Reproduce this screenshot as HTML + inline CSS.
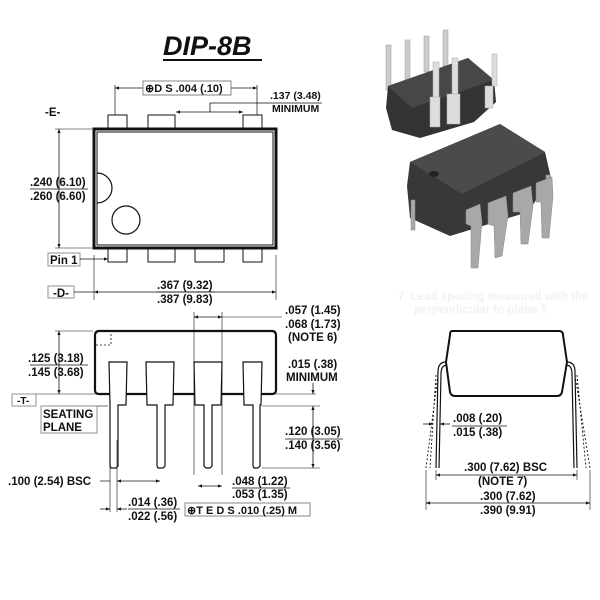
<!DOCTYPE html>
<html><head><style>
body{margin:0;background:#fff}
svg{display:block}
text{font-family:"Liberation Sans",sans-serif;font-weight:bold;font-size:11.5px;fill:#111}
</style></head><body>
<svg width="600" height="600" viewBox="0 0 600 600" xmlns="http://www.w3.org/2000/svg">
<defs><marker id="a" viewBox="0 0 10 10" refX="10" refY="5" markerWidth="7" markerHeight="5" orient="auto-start-reverse"><path d="M0,1L10,5L0,9z" fill="#111"/></marker></defs>
<g stroke="#111" fill="none">
<text x="163" y="55" style="font-size:27px;font-style:italic" stroke="none">DIP-8B</text>
<line x1="163" y1="60" x2="262" y2="60" stroke-width="2"/>
<rect x="94" y="129" width="182" height="119" stroke-width="3"/>
<rect x="97" y="132" width="176" height="113" stroke-width="1"/>
<path d="M97,173 A15,15 0 0 1 97,203" stroke-width="1.2"/>
<circle cx="126" cy="220" r="14" stroke-width="1.2"/>
<rect x="108" y="115" width="19" height="14"/><rect x="148" y="115" width="27" height="14"/><rect x="243" y="115" width="19" height="14"/>
<rect x="108" y="248" width="19" height="14"/><rect x="148" y="248" width="27" height="14"/><rect x="195" y="248" width="29" height="14"/><rect x="243" y="248" width="19" height="14"/>
<line x1="115" y1="85" x2="115" y2="115" stroke-width=".7"/><line x1="257" y1="85" x2="257" y2="115" stroke-width=".7"/>
<line x1="115" y1="88" x2="143" y2="88" marker-start="url(#a)" stroke-width=".8"/><line x1="231" y1="88" x2="257" y2="88" marker-end="url(#a)" stroke-width=".8"/>
<rect x="143" y="81" width="88" height="14" stroke-width=".8" stroke="#666"/>
<line x1="176" y1="112" x2="243" y2="112" marker-start="url(#a)" marker-end="url(#a)" stroke-width=".8"/>
<polyline points="210,112 210,103 322,103" stroke-width=".8"/>
<line x1="59" y1="129" x2="59" y2="248" marker-start="url(#a)" marker-end="url(#a)" stroke-width=".8"/>
<line x1="55" y1="129" x2="92" y2="129" stroke-width=".6"/><line x1="55" y1="248" x2="92" y2="248" stroke-width=".6"/>
<line x1="30" y1="189" x2="88" y2="189" stroke-width=".7"/>
<rect x="48" y="253" width="32" height="13" stroke="#777" stroke-width=".8"/>
<line x1="80" y1="259" x2="108" y2="259" marker-end="url(#a)" stroke-width=".8"/>
<rect x="48" y="286" width="26" height="12" stroke="#777" stroke-width=".8"/>
<line x1="74" y1="292" x2="94" y2="292" stroke-width=".7"/>
<line x1="94" y1="255" x2="94" y2="300" stroke-width=".6"/><line x1="276" y1="255" x2="276" y2="300" stroke-width=".6"/>
<line x1="94" y1="292" x2="276" y2="292" marker-start="url(#a)" marker-end="url(#a)" stroke-width=".8"/>
<line x1="156" y1="292" x2="215" y2="292" stroke-width=".8"/>
<path d="M99,331 H272 Q276,331 276,336 V390 Q276,394 272,394 H99 Q95,394 95,390 V336 Q95,331 99,331 Z" stroke-width="2.2"/>
<path d="M96,345 H111 V332" stroke-dasharray="2,2" stroke-width=".8"/>
<g fill="#fff" stroke-width="1.2">
<path d="M109,362 H127 L126,405 H118 V466 L116,468 H111 L110,466 V405 Z"/>
<path d="M146,362 H174 L173,405 H165 V466 L163,468 H158 L157,466 V405 H147 Z"/>
<path d="M194,362 H222 L221,405 H212 V466 L210,468 H206 L204,466 V405 H195 Z"/>
<path d="M243,362 H262 L261,405 H260 V466 L258,468 H254 L253,466 V405 H244 Z"/>
</g>
<line x1="194" y1="312" x2="194" y2="475" stroke-width=".6"/><line x1="222" y1="312" x2="222" y2="475" stroke-width=".6"/>
<line x1="194" y1="317" x2="222" y2="317" marker-start="url(#a)" marker-end="url(#a)" stroke-width=".8"/>
<line x1="222" y1="317" x2="282" y2="317" stroke-width=".6"/>
<line x1="59" y1="331" x2="59" y2="394" marker-start="url(#a)" marker-end="url(#a)" stroke-width=".8"/>
<line x1="55" y1="331" x2="93" y2="331" stroke-width=".6"/>
<line x1="30" y1="365" x2="88" y2="365" stroke-width=".7"/>
<line x1="36" y1="394" x2="95" y2="394" stroke-width=".6"/>
<rect x="12" y="394" width="24" height="12" stroke="#777" stroke-width=".8"/>
<rect x="41" y="406" width="56" height="27" stroke="#777" stroke-width=".8"/>
<line x1="97" y1="406" x2="108" y2="406" stroke-width=".6"/>
<line x1="276" y1="394" x2="316" y2="394" stroke-width=".6"/>
<line x1="313" y1="383" x2="313" y2="394" marker-end="url(#a)" stroke-width=".8"/>
<line x1="262" y1="406" x2="320" y2="406" stroke-width=".6"/>
<line x1="262" y1="468" x2="320" y2="468" stroke-width=".6"/>
<line x1="313" y1="406" x2="313" y2="468" marker-start="url(#a)" marker-end="url(#a)" stroke-width=".8"/>
<line x1="285" y1="439" x2="343" y2="439" stroke-width=".7"/>
<line x1="110" y1="440" x2="110" y2="512" stroke-width=".6"/><line x1="117" y1="440" x2="117" y2="512" stroke-width=".6"/>
<line x1="100" y1="481" x2="110" y2="481" stroke-width=".7"/>
<line x1="117" y1="481" x2="160" y2="481" marker-start="url(#a)" marker-end="url(#a)" stroke-width=".8"/>
<line x1="100" y1="509" x2="110" y2="509" marker-end="url(#a)" stroke-width=".8"/>
<line x1="127" y1="509" x2="117" y2="509" marker-end="url(#a)" stroke-width=".8"/>
<line x1="128" y1="509" x2="180" y2="509" stroke-width=".7"/>
<line x1="198" y1="486" x2="222" y2="486" marker-start="url(#a)" marker-end="url(#a)" stroke-width=".8"/>
<line x1="232" y1="488" x2="290" y2="488" stroke-width=".7"/>
<rect x="185" y="503" width="125" height="13" stroke="#666" stroke-width=".8"/>
<path d="M452,331 H559 Q563,331 563,335 L567,362 L562,392 Q561,396 557,396 H455 Q451,396 450,392 L446,362 L450,335 Q450,331 452,331 Z" stroke-width="2"/>
<path d="M446,362 Q438,362 438,372 L436,468" stroke-width="1.2"/><path d="M446,365 Q441,366 441,374 L439,468" stroke-width="1.2"/>
<path d="M567,362 Q575,362 575,372 L577,468" stroke-width="1.2"/><path d="M567,365 Q572,366 572,374 L574,468" stroke-width="1.2"/>
<path d="M438,375 L426,468 M436,375 L430,468 M575,375 L590,468 M577,375 L586,468" stroke-dasharray="2,2" stroke-width=".9"/>
<line x1="423" y1="424" x2="433" y2="424" marker-end="url(#a)" stroke-width=".8"/>
<line x1="450" y1="424" x2="440" y2="424" marker-end="url(#a)" stroke-width=".8"/>
<line x1="452" y1="426" x2="507" y2="426" stroke-width=".7"/>
<line x1="436" y1="470" x2="436" y2="480" stroke-width=".6"/><line x1="577" y1="470" x2="577" y2="480" stroke-width=".6"/>
<line x1="436" y1="475" x2="577" y2="475" marker-start="url(#a)" marker-end="url(#a)" stroke-width=".8"/>
<line x1="426" y1="470" x2="426" y2="510" stroke-width=".6"/><line x1="590" y1="470" x2="590" y2="510" stroke-width=".6"/>
<line x1="426" y1="503" x2="590" y2="503" marker-start="url(#a)" marker-end="url(#a)" stroke-width=".8"/>
</g>
<g>
<g fill="#ccc" stroke="#999" stroke-width=".5">
<rect x="386" y="45" width="5" height="45"/><rect x="405" y="40" width="5" height="40"/><rect x="424" y="36" width="5" height="36"/><rect x="443" y="30" width="5" height="36"/>
</g>
<path d="M388,86 L468,58 L494,80 L496,102 L474,122 L420,138 L392,130 L386,108 Z" fill="#333"/>
<path d="M388,86 L468,58 L494,80 L412,108 Z" fill="#474747"/>
<g fill="#ddd" stroke="#aaa" stroke-width=".5">
<rect x="433" y="62" width="6" height="40"/><rect x="452" y="58" width="6" height="36"/><rect x="492" y="54" width="5" height="32"/>
<rect x="430" y="97" width="10" height="30"/><rect x="447" y="94" width="13" height="30"/><rect x="485" y="86" width="8" height="22"/>
</g>
<path d="M410,162 L500,124 L545,152 L551,178 L528,212 L450,236 L410,218 L407,186 Z" fill="#383838"/>
<path d="M410,162 L500,124 L545,152 L462,194 Z" fill="#4b4b4b"/>
<ellipse cx="434" cy="174" rx="5" ry="3" fill="#222"/>
<g fill="#a8a8a8" stroke="#888" stroke-width=".5">
<rect x="411" y="200" width="4" height="30"/><rect x="546" y="175" width="4" height="45"/>
<path d="M466,210 L480,204 L482,222 L478,268 L471,268 L471,226 L466,224 Z"/>
<path d="M488,203 L506,196 L508,216 L502,256 L495,258 L494,226 L488,224 Z"/>
<path d="M513,193 L531,186 L533,206 L528,244 L521,244 L520,212 L513,212 Z"/>
<path d="M536,183 L552,177 L553,196 L549,238 L542,238 L541,202 L536,202 Z"/>
</g>
</g>
<text x="45" y="116">-E-</text>
<text x="30" y="186">.240 (6.10)</text><text x="30" y="200">.260 (6.60)</text>
<text x="145" y="92" style="font-size:11px">⊕D S .004 (.10)</text>
<text x="270" y="99" style="font-size:10.5px">.137 (3.48)</text><text x="272" y="112" style="font-size:10.5px">MINIMUM</text>
<text x="50" y="264">Pin 1</text>
<text x="53" y="297">-D-</text>
<text x="157" y="289">.367 (9.32)</text><text x="157" y="303">.387 (9.83)</text>
<text x="285" y="314">.057 (1.45)</text><text x="285" y="328">.068 (1.73)</text><text x="288" y="341">(NOTE 6)</text>
<text x="28" y="362">.125 (3.18)</text><text x="28" y="376">.145 (3.68)</text>
<text x="288" y="368">.015 (.38)</text><text x="286" y="381">MINIMUM</text>
<text x="17" y="404" style="font-size:10px">-T-</text>
<text x="43" y="418">SEATING</text><text x="43" y="431">PLANE</text>
<text x="285" y="435">.120 (3.05)</text><text x="285" y="449">.140 (3.56)</text>
<text x="8" y="485">.100 (2.54) BSC</text>
<text x="232" y="485">.048 (1.22)</text><text x="232" y="498">.053 (1.35)</text>
<text x="128" y="506">.014 (.36)</text><text x="128" y="520">.022 (.56)</text>
<text x="187" y="514" style="font-size:11px">⊕T E D S .010 (.25) M</text>
<text x="398" y="300" style="fill:#f2f2f2">7. Lead spacing measured with the</text>
<text x="414" y="313" style="fill:#f2f2f2">perpendicular to plane T.</text>
<text x="453" y="422">.008 (.20)</text><text x="453" y="436">.015 (.38)</text>
<text x="464" y="471">.300 (7.62) BSC</text><text x="478" y="485">(NOTE 7)</text>
<text x="480" y="500">.300 (7.62)</text><text x="480" y="514">.390 (9.91)</text>
</svg>
</body></html>
